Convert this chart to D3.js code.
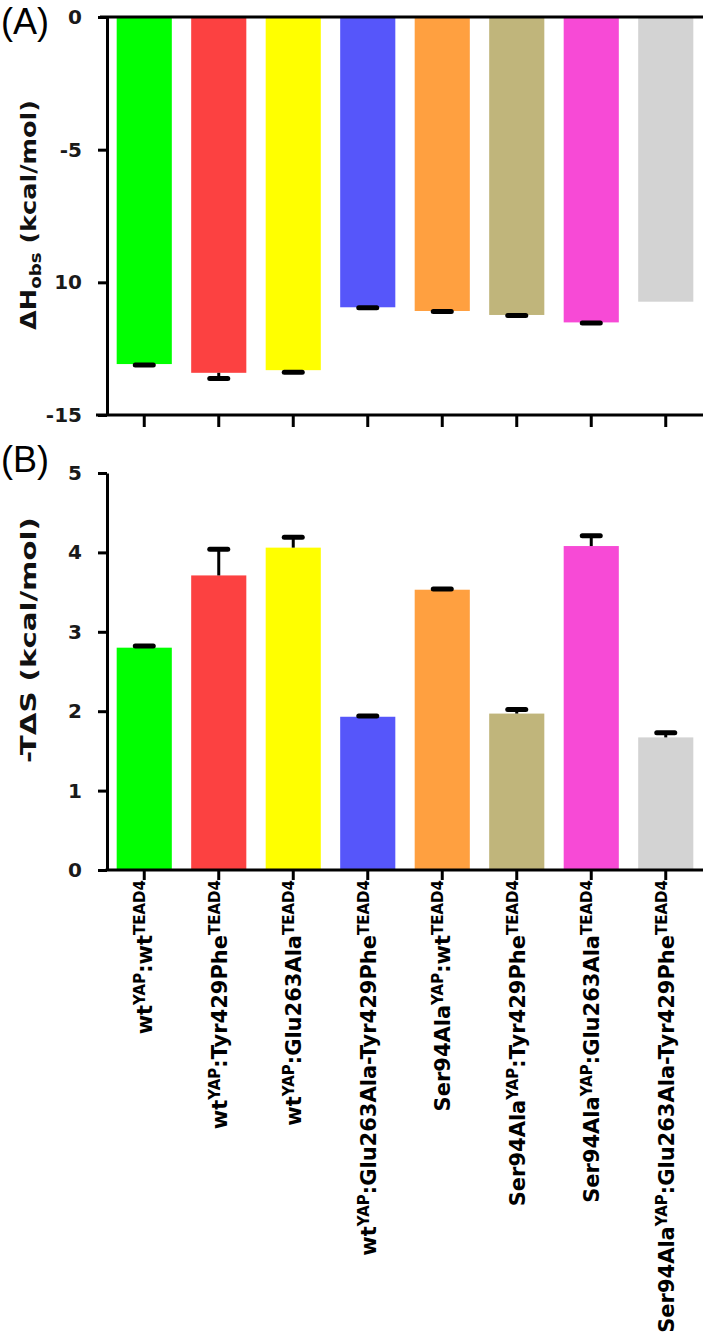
<!DOCTYPE html>
<html><head><meta charset="utf-8">
<script src="https://cdn.jsdelivr.net/npm/d3@7"></script>
<style>body{margin:0;background:#fff}svg{display:block}</style>
</head><body>
<script>
// ---------- data ----------
const yapNames  = ["wt","wt","wt","wt","Ser94Ala","Ser94Ala","Ser94Ala","Ser94Ala"];
const teadNames = ["wt","Tyr429Phe","Glu263Ala","Glu263Ala-Tyr429Phe","wt","Tyr429Phe","Glu263Ala","Glu263Ala-Tyr429Phe"];
const dHobs     = [-13.08, -13.41, -13.31, -10.94, -11.08, -11.23, -11.51, -10.73];
const dHobsErr  = [0.04, 0.21, 0.08, 0.02, 0.02, 0.02, 0.02, 0];
const mTdS      = [2.80, 3.71, 4.06, 1.93, 3.53, 1.97, 4.08, 1.67];
const mTdSErr   = [0.02, 0.33, 0.13, 0.01, 0.01, 0.05, 0.13, 0.06];
const barColors = ["#00ff00","#fc4141","#ffff00","#5656fa","#ffa040","#c0b57b","#f74ad6","#d3d3d3"];
const ticksA = [0, -5, -10, -15];
const tickLabelsA = ["0", "-5", "10", "-15"];
const ticksB = [0, 1, 2, 3, 4, 5];
const tickLabelsB = ["0", "1", "2", "3", "4", "5"];

// ---------- layout ----------
const W = 709, H = 1341;
const FONT = "'DejaVu Sans', Verdana, sans-serif";
const svg = d3.select("body").append("svg").attr("width", W).attr("height", H);

const idx = d3.range(yapNames.length);
const x = d3.scaleBand().domain(idx).range([107, 703]).paddingInner(0.26).paddingOuter(0.13);
const yA = d3.scaleLinear().domain([0, -15]).range([17, 415]);
const yB = d3.scaleLinear().domain([0, 5]).range([870, 473]);

function yAxis(scale, ticks, labels) {
  const g = svg.append("g").attr("transform", "translate(107,0)")
    .call(d3.axisLeft(scale).tickValues(ticks).tickSize(9).tickSizeOuter(0).tickPadding(16)
      .tickFormat((d, i) => labels[i]));
  g.select(".domain").attr("stroke", "#000").attr("stroke-width", 3);
  g.selectAll(".tick line").attr("stroke", "#000").attr("stroke-width", 3);
  g.selectAll(".tick text").attr("font-family", FONT).attr("font-weight", "bold")
    .attr("font-size", 20).attr("fill", "#1a1a1a");
  return g;
}

function xTicks(yPos, len) {
  svg.append("g").selectAll("line").data(idx).join("line")
    .attr("x1", d => x(d) + x.bandwidth() / 2).attr("x2", d => x(d) + x.bandwidth() / 2)
    .attr("y1", yPos).attr("y2", yPos + len)
    .attr("stroke", "#000").attr("stroke-width", 3);
}

function bars(scale, vals, errs) {
  svg.append("g").selectAll("rect").data(idx).join("rect")
    .attr("x", d => x(d)).attr("width", x.bandwidth())
    .attr("y", d => Math.min(scale(0), scale(vals[d])))
    .attr("height", d => Math.abs(scale(vals[d]) - scale(0)))
    .attr("fill", d => barColors[d]);
  const eg = svg.append("g").selectAll("g").data(idx.filter(d => errs[d] > 0)).join("g");
  eg.append("line")
    .attr("x1", d => x(d) + x.bandwidth() / 2).attr("x2", d => x(d) + x.bandwidth() / 2)
    .attr("y1", d => scale(vals[d]))
    .attr("y2", d => scale(vals[d] + Math.sign(vals[d]) * errs[d]))
    .attr("stroke", "#000").attr("stroke-width", 3);
  eg.append("line")
    .attr("x1", d => x(d) + x.bandwidth() / 2 - 9).attr("x2", d => x(d) + x.bandwidth() / 2 + 9)
    .attr("y1", d => scale(vals[d] + Math.sign(vals[d]) * errs[d]))
    .attr("y2", d => scale(vals[d] + Math.sign(vals[d]) * errs[d]))
    .attr("stroke", "#000").attr("stroke-width", 5).attr("stroke-linecap", "round");
}

// ---------- panel A ----------
bars(yA, dHobs, dHobsErr);
yAxis(yA, ticksA, tickLabelsA);
svg.append("line").attr("x1", 100).attr("x2", 703).attr("y1", yA(0)).attr("y2", yA(0))
  .attr("stroke", "#000").attr("stroke-width", 3);
svg.append("line").attr("x1", 96).attr("x2", 703).attr("y1", yA(-15)).attr("y2", yA(-15))
  .attr("stroke", "#000").attr("stroke-width", 3);
xTicks(yA(-15), 12);

// ---------- panel B ----------
bars(yB, mTdS, mTdSErr);
yAxis(yB, ticksB, tickLabelsB);
svg.append("line").attr("x1", 105.5).attr("x2", 703).attr("y1", yB(0)).attr("y2", yB(0))
  .attr("stroke", "#000").attr("stroke-width", 3);
xTicks(yB(0), 10);

// ---------- panel letters ----------
svg.append("text").attr("x", 1).attr("y", 34).text("(A)")
  .attr("font-family", "'Liberation Sans', Arial, sans-serif").attr("font-size", 36);
svg.append("text").attr("x", 1).attr("y", 472).text("(B)")
  .attr("font-family", "'Liberation Sans', Arial, sans-serif").attr("font-size", 36);

// ---------- axis titles ----------
function title(cx, cy, target, parts) {
  const t = svg.append("text").attr("font-family", FONT).attr("font-weight", "bold")
    .attr("font-size", 21).attr("text-anchor", "middle").attr("fill", "#111");
  parts.forEach(p => {
    t.append("tspan").text(p.t).attr("font-size", p.size || null).attr("dy", p.dy || 0);
  });
  const len = t.node().getComputedTextLength();
  t.attr("transform", `translate(${cx},${cy}) rotate(-90) scale(${target / len},1)`);
}
title(36, 215, 230, [{t: "ΔH"}, {t: "obs", size: 15, dy: 5}, {t: " (kcal/mol)", dy: -5}]);
title(36, 640, 246, [{t: "-TΔS (kcal/mol)"}]);

// ---------- category labels ----------
const lab = svg.append("g").selectAll("text").data(idx).join("text")
  .attr("font-family", FONT).attr("font-weight", "bold").attr("font-size", 21)
  .attr("text-anchor", "end").attr("fill", "#000")
  .attr("transform", d => `translate(${x(d) + x.bandwidth() / 2 + 8},880) rotate(-90)`);
lab.each(function(d) {
  const t = d3.select(this);
  t.append("tspan").text(yapNames[d]);
  t.append("tspan").text("YAP").attr("font-size", 15).attr("dy", -7);
  t.append("tspan").text(":").attr("dy", 7);
  t.append("tspan").text(teadNames[d]);
  t.append("tspan").text("TEAD4").attr("font-size", 15).attr("dy", -7);
});
</script>
</body></html>
